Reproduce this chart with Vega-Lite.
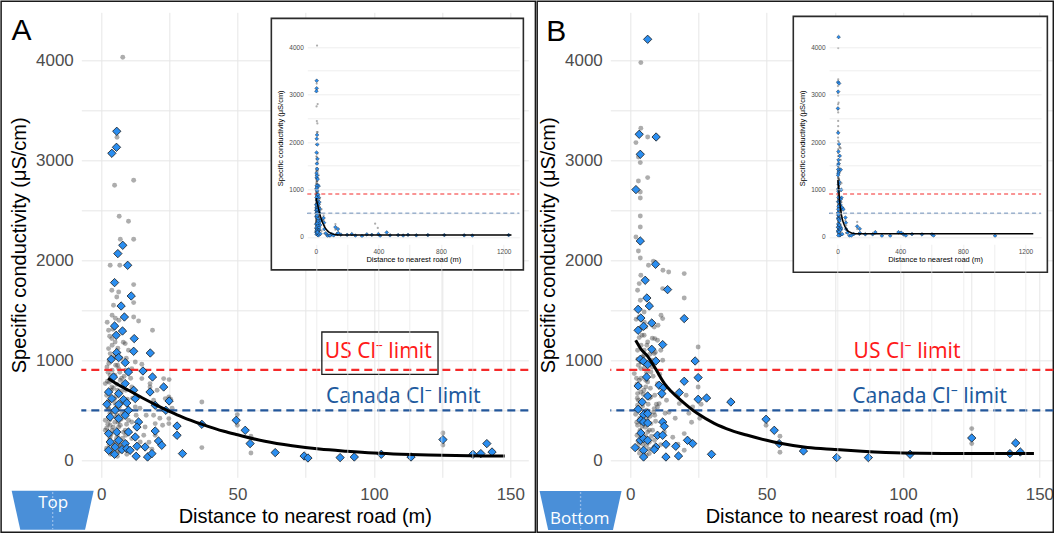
{
"$schema": "https://vega.github.io/schema/vega-lite/v6.json",
"padding": {"left": 0.3, "top": 0.3, "right": 0, "bottom": 0},
"background": "white",
"spacing": 0,
"config": {
 "view": {"stroke": null},
 "axis": {"grid": true, "domain": false, "ticks": false, "gridColor": "#e6e6e6", "gridWidth": 1, "labelFont": "Liberation Sans", "labelFontSize": 17, "labelColor": "#4d4d4d", "titleFont": "Liberation Sans", "titleFontSize": 20, "titleFontWeight": "normal", "titleColor": "#000000", "labelOverlap": false}
},
"datasets": {
 "one": [{"k": 1}],
 "Ab": [{"d":5.7,"sc":3290},{"d":5.6,"sc":3130},{"d":3.9,"sc":3070},{"d":7.9,"sc":2150},{"d":6.1,"sc":2067},{"d":9.7,"sc":1950},{"d":4.9,"sc":1777},{"d":11.0,"sc":1643},{"d":7.3,"sc":1543},{"d":8.5,"sc":1433},{"d":4.9,"sc":1343},{"d":5.5,"sc":1250},{"d":7.8,"sc":1293},{"d":12.1,"sc":1217},{"d":11.9,"sc":1090},{"d":18.0,"sc":1073},{"d":5.7,"sc":1077},{"d":3.7,"sc":1010},{"d":6.4,"sc":1027},{"d":8.8,"sc":977},{"d":10.0,"sc":883},{"d":15.3,"sc":893},{"d":18.8,"sc":833},{"d":4.5,"sc":833},{"d":8.8,"sc":767},{"d":22.9,"sc":733},{"d":11.9,"sc":700},{"d":17.9,"sc":683},{"d":2.7,"sc":683},{"d":6.4,"sc":667},{"d":3.9,"sc":617},{"d":8.2,"sc":607},{"d":12.5,"sc":617},{"d":24.9,"sc":593},{"d":2.1,"sc":560},{"d":6.4,"sc":560},{"d":9.4,"sc":573},{"d":19.8,"sc":550},{"d":5.1,"sc":500},{"d":10.0,"sc":500},{"d":23.7,"sc":500},{"d":3.3,"sc":433},{"d":6.4,"sc":417},{"d":8.8,"sc":450},{"d":13.7,"sc":383},{"d":36.9,"sc":360},{"d":49.5,"sc":400},{"d":52.8,"sc":300},{"d":27.8,"sc":343},{"d":27.8,"sc":250},{"d":19.8,"sc":293},{"d":13.1,"sc":333},{"d":2.7,"sc":267},{"d":5.7,"sc":283},{"d":10.0,"sc":283},{"d":12.5,"sc":233},{"d":3.3,"sc":183},{"d":6.4,"sc":200},{"d":8.8,"sc":167},{"d":21.0,"sc":193},{"d":22.2,"sc":150},{"d":16.1,"sc":133},{"d":13.1,"sc":140},{"d":2.7,"sc":100},{"d":5.1,"sc":133},{"d":7.6,"sc":107},{"d":9.4,"sc":117},{"d":4.9,"sc":60},{"d":12.8,"sc":40},{"d":17.0,"sc":33},{"d":18.6,"sc":67},{"d":29.8,"sc":67},{"d":54.6,"sc":167},{"d":10.6,"sc":100},{"d":63.8,"sc":77},{"d":74.4,"sc":43},{"d":75.8,"sc":23},{"d":87.6,"sc":27},{"d":92.8,"sc":33},{"d":102.7,"sc":60},{"d":113.6,"sc":33},{"d":125.3,"sc":207},{"d":136.3,"sc":60},{"d":139.2,"sc":67},{"d":141.4,"sc":167},{"d":143.3,"sc":83}],
 "Ag": [{"d":7.9,"sc":4030},{"d":5.8,"sc":3230},{"d":4.9,"sc":2750},{"d":11.9,"sc":2800},{"d":6.6,"sc":2440},{"d":10.0,"sc":2390},{"d":7.0,"sc":2210},{"d":11.9,"sc":2210},{"d":3.3,"sc":1950},{"d":6.8,"sc":1950},{"d":11.9,"sc":1757},{"d":3.9,"sc":1700},{"d":6.4,"sc":1683},{"d":5.7,"sc":1633},{"d":4.5,"sc":1550},{"d":11.9,"sc":1577},{"d":11.9,"sc":1433},{"d":13.7,"sc":1393},{"d":18.8,"sc":1300},{"d":2.7,"sc":1300},{"d":3.9,"sc":1217},{"d":5.1,"sc":1183},{"d":8.8,"sc":1167},{"d":2.7,"sc":1117},{"d":3.3,"sc":1067},{"d":12.5,"sc":983},{"d":14.9,"sc":960},{"d":2.1,"sc":933},{"d":6.4,"sc":917},{"d":11.2,"sc":917},{"d":3.3,"sc":850},{"d":7.0,"sc":800},{"d":14.9,"sc":817},{"d":22.9,"sc":817},{"d":24.9,"sc":807},{"d":1.5,"sc":767},{"d":17.9,"sc":767},{"d":17.9,"sc":733},{"d":11.2,"sc":733},{"d":3.9,"sc":733},{"d":24.8,"sc":633},{"d":23.5,"sc":617},{"d":36.9,"sc":583},{"d":19.2,"sc":600},{"d":5.1,"sc":567},{"d":12.5,"sc":533},{"d":2.7,"sc":517},{"d":7.6,"sc":467},{"d":19.2,"sc":450},{"d":24.8,"sc":417},{"d":49.9,"sc":457},{"d":1.5,"sc":400},{"d":11.2,"sc":383},{"d":19.8,"sc":367},{"d":24.8,"sc":367},{"d":3.3,"sc":350},{"d":6.4,"sc":333},{"d":16.1,"sc":333},{"d":1.5,"sc":300},{"d":8.8,"sc":300},{"d":19.8,"sc":250},{"d":11.2,"sc":217},{"d":3.3,"sc":233},{"d":6.4,"sc":150},{"d":14.3,"sc":183},{"d":49.9,"sc":350},{"d":54.9,"sc":240},{"d":54.9,"sc":73},{"d":36.9,"sc":127},{"d":3.9,"sc":67},{"d":9.4,"sc":60},{"d":18.6,"sc":110},{"d":4,"sc":1150},{"d":5,"sc":1050},{"d":3,"sc":1000},{"d":6,"sc":950},{"d":4,"sc":900},{"d":2.5,"sc":880},{"d":5,"sc":850},{"d":7.5,"sc":820},{"d":3,"sc":780},{"d":4.5,"sc":720},{"d":6,"sc":700},{"d":2,"sc":650},{"d":3.5,"sc":600},{"d":5.5,"sc":640},{"d":7,"sc":560},{"d":2.5,"sc":520},{"d":4,"sc":480},{"d":6,"sc":450},{"d":3,"sc":400},{"d":5,"sc":380},{"d":7,"sc":350},{"d":2,"sc":320},{"d":4,"sc":300},{"d":6,"sc":260},{"d":3,"sc":200},{"d":5,"sc":180},{"d":7,"sc":150},{"d":2,"sc":120},{"d":4,"sc":100},{"d":6,"sc":80},{"d":8,"sc":600},{"d":9,"sc":700},{"d":9,"sc":900},{"d":10,"sc":1100},{"d":8,"sc":1300},{"d":6.5,"sc":1400},{"d":4,"sc":1450},{"d":5.5,"sc":1250},{"d":10,"sc":400},{"d":9,"sc":250},{"d":125.3,"sc":273},{"d":125.3,"sc":153},{"d":2.2,"sc":1380},{"d":3.1,"sc":1240},{"d":4.3,"sc":1310},{"d":5.2,"sc":1420},{"d":6.1,"sc":1120},{"d":7.2,"sc":1020},{"d":8.1,"sc":1180},{"d":9.2,"sc":1020},{"d":2.8,"sc":970},{"d":4.1,"sc":1020},{"d":5.3,"sc":950},{"d":6.8,"sc":880},{"d":8.4,"sc":840},{"d":2.3,"sc":790},{"d":3.6,"sc":700},{"d":5.7,"sc":760},{"d":7.4,"sc":690},{"d":9.6,"sc":610},{"d":2.6,"sc":590},{"d":4.8,"sc":610},{"d":6.6,"sc":530},{"d":8.6,"sc":470},{"d":3.2,"sc":470},{"d":5.4,"sc":430},{"d":7.3,"sc":410},{"d":9.3,"sc":360},{"d":2.4,"sc":360},{"d":4.4,"sc":330},{"d":6.2,"sc":380},{"d":8.2,"sc":280},{"d":3.6,"sc":260},{"d":5.6,"sc":220},{"d":7.8,"sc":220},{"d":2.9,"sc":160},{"d":4.7,"sc":140},{"d":6.9,"sc":90},{"d":8.9,"sc":180},{"d":3.4,"sc":60},{"d":5.9,"sc":40},{"d":10.8,"sc":820},{"d":11.5,"sc":620},{"d":12.8,"sc":450},{"d":13.3,"sc":640},{"d":14.2,"sc":520},{"d":16.5,"sc":450},{"d":15.6,"sc":250},{"d":17.5,"sc":180},{"d":21.5,"sc":420},{"d":20.5,"sc":700},{"d":22.5,"sc":350},{"d":26,"sc":520},{"d":25.5,"sc":610}],
 "Bb": [{"d":6.4,"sc":4210},{"d":3.3,"sc":3260},{"d":9.5,"sc":3233},{"d":3.7,"sc":3060},{"d":2.1,"sc":2707},{"d":3.7,"sc":2193},{"d":9.3,"sc":1960},{"d":5.5,"sc":1800},{"d":13.7,"sc":1707},{"d":6.1,"sc":1623},{"d":7.0,"sc":1543},{"d":2.9,"sc":1510},{"d":19.8,"sc":1417},{"d":3.9,"sc":1423},{"d":7.9,"sc":1373},{"d":4.9,"sc":1340},{"d":2.9,"sc":1300},{"d":11.9,"sc":1157},{"d":7.9,"sc":1110},{"d":3.7,"sc":1010},{"d":4.9,"sc":990},{"d":9.4,"sc":993},{"d":23.8,"sc":993},{"d":6.4,"sc":957},{"d":24.9,"sc":827},{"d":6.0,"sc":833},{"d":19.8,"sc":790},{"d":2.9,"sc":743},{"d":10.6,"sc":750},{"d":12.2,"sc":727},{"d":18.0,"sc":677},{"d":11.6,"sc":667},{"d":24.9,"sc":610},{"d":28.0,"sc":623},{"d":36.9,"sc":583},{"d":6.4,"sc":643},{"d":4.4,"sc":583},{"d":2.9,"sc":510},{"d":4.9,"sc":457},{"d":6.4,"sc":467},{"d":3.9,"sc":400},{"d":4.9,"sc":383},{"d":11.9,"sc":383},{"d":6.4,"sc":373},{"d":12.5,"sc":340},{"d":49.8,"sc":410},{"d":52.8,"sc":300},{"d":54.6,"sc":167},{"d":3.9,"sc":273},{"d":3.7,"sc":200},{"d":4.9,"sc":217},{"d":6.4,"sc":200},{"d":10.0,"sc":250},{"d":11.9,"sc":250},{"d":21.0,"sc":200},{"d":22.9,"sc":167},{"d":13.1,"sc":160},{"d":9.4,"sc":133},{"d":1.8,"sc":127},{"d":16.7,"sc":140},{"d":4.9,"sc":100},{"d":8.8,"sc":107},{"d":17.7,"sc":43},{"d":13.1,"sc":33},{"d":4.9,"sc":33},{"d":29.8,"sc":60},{"d":63.5,"sc":93},{"d":75.7,"sc":27},{"d":87.3,"sc":27},{"d":102.6,"sc":60},{"d":125.2,"sc":223},{"d":139.2,"sc":67},{"d":141.3,"sc":173},{"d":143,"sc":83}],
 "Bg": [{"d":3.9,"sc":3977},{"d":3.9,"sc":3320},{"d":6.4,"sc":3233},{"d":2.1,"sc":3177},{"d":3.0,"sc":3033},{"d":3.7,"sc":2977},{"d":6.4,"sc":2827},{"d":3.0,"sc":2793},{"d":3.7,"sc":2683},{"d":3.7,"sc":2623},{"d":3.7,"sc":2443},{"d":3.7,"sc":2333},{"d":2.1,"sc":2233},{"d":3.0,"sc":2093},{"d":3.7,"sc":2023},{"d":6.7,"sc":1950},{"d":8.5,"sc":1990},{"d":14.1,"sc":1883},{"d":19.8,"sc":1867},{"d":3.9,"sc":1850},{"d":3.3,"sc":1767},{"d":2.7,"sc":1700},{"d":11.9,"sc":1717},{"d":19.8,"sc":1623},{"d":3.7,"sc":1600},{"d":5.1,"sc":1483},{"d":11.9,"sc":1417},{"d":3.3,"sc":1433},{"d":5.1,"sc":1250},{"d":3.3,"sc":1227},{"d":9.0,"sc":1217},{"d":6.4,"sc":1183},{"d":24.9,"sc":1133},{"d":5.1,"sc":1100},{"d":8.8,"sc":1067},{"d":2.7,"sc":1100},{"d":11.9,"sc":1000},{"d":3.9,"sc":917},{"d":7.6,"sc":883},{"d":3.3,"sc":800},{"d":10.0,"sc":767},{"d":24.9,"sc":733},{"d":2.7,"sc":667},{"d":7.6,"sc":633},{"d":18.0,"sc":567},{"d":10.6,"sc":567},{"d":2.7,"sc":550},{"d":8.8,"sc":517},{"d":4.5,"sc":433},{"d":49.8,"sc":350},{"d":7.6,"sc":367},{"d":2.7,"sc":350},{"d":12.5,"sc":283},{"d":19.8,"sc":267},{"d":54.9,"sc":240},{"d":6.4,"sc":283},{"d":3.3,"sc":167},{"d":11.2,"sc":157},{"d":19.8,"sc":100},{"d":54.9,"sc":80},{"d":7.0,"sc":67},{"d":10,"sc":533},{"d":5.7,"sc":733},{"d":3.9,"sc":683},{"d":6.4,"sc":783},{"d":4.5,"sc":1033},{"d":8.1,"sc":933},{"d":1.5,"sc":867},{"d":11.2,"sc":1100},{"d":8.8,"sc":1333},{"d":5.7,"sc":1333},{"d":4,"sc":1150},{"d":5,"sc":1050},{"d":3,"sc":950},{"d":6,"sc":880},{"d":4,"sc":820},{"d":2.5,"sc":760},{"d":5,"sc":700},{"d":7,"sc":620},{"d":3,"sc":600},{"d":4.5,"sc":540},{"d":6,"sc":500},{"d":2,"sc":460},{"d":3.5,"sc":420},{"d":5.5,"sc":330},{"d":7,"sc":300},{"d":2.5,"sc":250},{"d":4,"sc":230},{"d":6,"sc":150},{"d":3,"sc":120},{"d":5,"sc":90},{"d":7,"sc":180},{"d":9,"sc":450},{"d":9,"sc":650},{"d":8,"sc":1000},{"d":10,"sc":1200},{"d":125.2,"sc":317},{"d":125.2,"sc":167},{"d":22.9,"sc":533},{"d":2.2,"sc":1410},{"d":3.1,"sc":1300},{"d":4.3,"sc":1250},{"d":5.2,"sc":1380},{"d":6.1,"sc":1150},{"d":7.2,"sc":1060},{"d":8.1,"sc":1220},{"d":9.2,"sc":1080},{"d":2.8,"sc":1010},{"d":4.1,"sc":980},{"d":5.3,"sc":920},{"d":6.8,"sc":960},{"d":8.4,"sc":840},{"d":2.3,"sc":820},{"d":3.6,"sc":740},{"d":5.7,"sc":800},{"d":7.4,"sc":720},{"d":9.6,"sc":560},{"d":2.6,"sc":620},{"d":4.8,"sc":660},{"d":6.6,"sc":560},{"d":8.6,"sc":480},{"d":3.2,"sc":500},{"d":5.4,"sc":470},{"d":7.3,"sc":440},{"d":9.3,"sc":390},{"d":2.4,"sc":380},{"d":4.4,"sc":340},{"d":6.2,"sc":410},{"d":8.2,"sc":300},{"d":3.6,"sc":300},{"d":5.6,"sc":240},{"d":7.8,"sc":240},{"d":2.9,"sc":190},{"d":4.7,"sc":160},{"d":6.9,"sc":110},{"d":8.9,"sc":200},{"d":3.4,"sc":70},{"d":5.9,"sc":50},{"d":10.8,"sc":860},{"d":11.5,"sc":640},{"d":12.8,"sc":470},{"d":13.3,"sc":600},{"d":14.2,"sc":480},{"d":16.5,"sc":420},{"d":15.6,"sc":230},{"d":17.5,"sc":160},{"d":21.5,"sc":470},{"d":20.5,"sc":650},{"d":22.5,"sc":380},{"d":26,"sc":560},{"d":25.5,"sc":420},{"d":12.0,"sc":1900},{"d":11.3,"sc":1450},{"d":10.2,"sc":1350}],
 "Afb": [{"d":160,"sc":50},{"d":200,"sc":45},{"d":230,"sc":60},{"d":253,"sc":30},{"d":295,"sc":20},{"d":326,"sc":55},{"d":358,"sc":45},{"d":400,"sc":60},{"d":411,"sc":25},{"d":453,"sc":95},{"d":474,"sc":35},{"d":526,"sc":40},{"d":558,"sc":30},{"d":589,"sc":45},{"d":642,"sc":35},{"d":716,"sc":40},{"d":821,"sc":40},{"d":948,"sc":35},{"d":1000,"sc":30},{"d":1232,"sc":40}],
 "Afg": [{"d":379,"sc":280},{"d":396,"sc":190}],
 "Bfb": [{"d":177,"sc":57},{"d":224,"sc":57},{"d":241,"sc":100},{"d":283,"sc":25},{"d":336,"sc":25},{"d":389,"sc":100},{"d":406,"sc":90},{"d":421,"sc":55},{"d":436,"sc":30},{"d":475,"sc":60},{"d":539,"sc":55},{"d":603,"sc":55},{"d":613,"sc":30},{"d":1006,"sc":25}],
 "Afit": [{"d":2.5,"sc":820},{"d":5,"sc":775},{"d":10,"sc":700},{"d":15,"sc":625},{"d":20,"sc":555},{"d":25,"sc":490},{"d":30,"sc":430},{"d":37,"sc":360},{"d":45,"sc":290},{"d":50,"sc":255},{"d":60,"sc":190},{"d":70,"sc":145},{"d":80,"sc":112},{"d":90,"sc":90},{"d":100,"sc":72},{"d":110,"sc":60},{"d":120,"sc":52},{"d":130,"sc":47},{"d":140,"sc":44},{"d":148,"sc":42},{"d":200,"sc":40},{"d":400,"sc":40},{"d":800,"sc":40},{"d":1250,"sc":40}],
 "Bfit": [{"d":2,"sc":1200},{"d":4,"sc":1110},{"d":6.4,"sc":1040},{"d":9.4,"sc":910},{"d":12.5,"sc":770},{"d":15,"sc":690},{"d":18.6,"sc":600},{"d":24.7,"sc":467},{"d":30.8,"sc":370},{"d":37,"sc":300},{"d":43,"sc":250},{"d":50,"sc":200},{"d":55,"sc":170},{"d":65,"sc":128},{"d":75,"sc":108},{"d":85,"sc":90},{"d":100,"sc":72},{"d":115,"sc":68},{"d":130,"sc":67},{"d":148,"sc":67},{"d":200,"sc":67},{"d":400,"sc":67},{"d":800,"sc":67},{"d":1250,"sc":67}]
},
"hconcat": [
 {
  "width": 447, "height": 465,
  "data": {"name": "one"},
  "resolve": {"scale": {"x": "independent", "y": "independent"}},
  "layer": [
   {"layer": [
    {"mark": {"type": "rect", "filled": false, "stroke": "#1a1a1a", "strokeWidth": 1.5},
     "encoding": {"x": {"datum": -36.7, "type": "quantitative"}, "x2": {"datum": 159.2}, "y": {"datum": 4590, "type": "quantitative"}, "y2": {"datum": -720}}},
    {"data": {"name": "Ag"}, "mark": {"type": "circle", "size": 24, "color": "#333333", "opacity": 0.4},
     "encoding": {
      "x": {"field": "d", "type": "quantitative", "scale": {"domain": [-7.3, 156.6], "nice": false, "zero": false},
            "axis": {"grid": true, "title": "Distance to nearest road (m)", "values": [0, 25, 50, 75, 100, 125, 150], "labelExpr": "datum.value % 50 === 0 ? datum.label : ''", "labelPadding": 9, "titlePadding": 4}},
      "y": {"field": "sc", "type": "quantitative", "scale": {"domain": [-170, 4480], "nice": false, "zero": false},
            "axis": {"grid": true, "title": "Specific conductivity (μS/cm)", "values": [0, 500, 1000, 1500, 2000, 2500, 3000, 3500, 4000], "format": "d", "labelExpr": "datum.value % 1000 === 0 ? datum.label : ''", "labelPadding": 8, "titlePadding": 6}}}},
    {"mark": {"type": "rule", "color": "#f42a2a", "strokeWidth": 2.2, "strokeDash": [8, 5]}, "encoding": {"y": {"datum": 905, "type": "quantitative"}}},
    {"mark": {"type": "rule", "color": "#23579b", "strokeWidth": 2.2, "strokeDash": [8, 5]}, "encoding": {"y": {"datum": 500, "type": "quantitative"}}},
    {"data": {"name": "Ab"}, "mark": {"type": "point", "shape": "diamond", "filled": true, "fill": "#2b8ef0", "stroke": "#1a1a1a", "strokeWidth": 0.8, "size": 70, "opacity": 1},
     "encoding": {"x": {"field": "d", "type": "quantitative"}, "y": {"field": "sc", "type": "quantitative"}}},
    {"data": {"name": "Afit"}, "transform": [{"filter": "datum.d <= 150"}], "mark": {"type": "line", "color": "#000000", "strokeWidth": 3, "interpolate": "monotone"},
     "encoding": {"x": {"field": "d", "type": "quantitative"}, "y": {"field": "sc", "type": "quantitative"}}},
    {"mark": {"type": "rect", "filled": false, "stroke": "#1a1a1a", "strokeWidth": 1.3},
     "encoding": {"x": {"datum": 80.9, "type": "quantitative"}, "x2": {"datum": 123.5}, "y": {"datum": 1283, "type": "quantitative"}, "y2": {"datum": 860}}},
    {"mark": {"type": "text", "text": "US Cl⁻ limit", "font": "Noto Sans", "fontSize": 21, "color": "#ff1a1a", "align": "center", "baseline": "middle"},
     "encoding": {"x": {"datum": 101.6, "type": "quantitative"}, "y": {"datum": 1080, "type": "quantitative"}}},
    {"mark": {"type": "text", "text": "Canada Cl⁻ limit", "font": "Noto Sans", "fontSize": 21, "color": "#1d5a9e", "align": "center", "baseline": "middle"},
     "encoding": {"x": {"datum": 110.8, "type": "quantitative"}, "y": {"datum": 630, "type": "quantitative"}}},
    {"mark": {"type": "text", "text": "A", "font": "Liberation Sans", "fontSize": 30, "color": "#000000", "align": "center", "baseline": "middle"},
     "encoding": {"x": {"datum": -29.2, "type": "quantitative"}, "y": {"datum": 4290, "type": "quantitative"}}},
    {"mark": {"type": "point", "shape": "M-1,-0.476L1,-0.476L0.79,0.476L-0.79,0.476Z", "size": 6724, "filled": true, "fill": "#4a8fd8", "opacity": 1, "strokeWidth": 0},
     "encoding": {"x": {"datum": -17.8, "type": "quantitative"}, "y": {"datum": -500, "type": "quantitative"}}},
    {"mark": {"type": "rule", "color": "#a9c9ef", "strokeWidth": 1.3, "strokeDash": [1.5, 2.5]},
     "encoding": {"x": {"datum": -17.8, "type": "quantitative"}, "y": {"datum": -320, "type": "quantitative"}, "y2": {"datum": -690}}},
    {"mark": {"type": "text", "text": "Top", "font": "Open Sans", "fontSize": 17, "color": "#ffffff", "align": "center", "baseline": "middle"},
     "encoding": {"x": {"datum": -17.6, "type": "quantitative"}, "y": {"datum": -430, "type": "quantitative"}}}
   ]},
   {"layer": [
    {"mark": {"type": "rect", "fill": "#ffffff", "stroke": "#2b2b2b", "strokeWidth": 1.6},
     "encoding": {
      "x": {"datum": -284, "type": "quantitative", "scale": {"domain": [-54.3, 1300], "range": [226, 438], "nice": false, "zero": false},
            "axis": {"grid": true, "gridWidth": 0.7, "orient": "bottom", "offset": -232, "zindex": 1, "title": "Distance to nearest road (m)", "values": [0, 200, 400, 600, 800, 1000, 1200], "format": "d", "labelExpr": "datum.value % 400 === 0 ? datum.label : ''", "labelFontSize": 6.5, "titleFontSize": 7.5, "labelPadding": 3, "titlePadding": 1}},
      "x2": {"datum": 1326},
      "y": {"datum": 4604, "type": "quantitative", "scale": {"domain": [-175, 4352], "range": [233, 18], "nice": false, "zero": false},
            "axis": {"grid": true, "gridWidth": 0.7, "orient": "left", "offset": -226, "zindex": 1, "title": "Specific conductivity (μS/cm)", "values": [0, 500, 1000, 1500, 2000, 2500, 3000, 3500, 4000], "format": "d", "labelExpr": "datum.value % 1000 === 0 ? datum.label : ''", "labelFontSize": 6.5, "titleFontSize": 7.5, "labelPadding": 4, "titlePadding": 4}},
      "y2": {"datum": -692}}},
    {"data": {"name": "Ag"}, "mark": {"type": "circle", "size": 5, "color": "#333333", "opacity": 0.4},
     "encoding": {"x": {"field": "d", "type": "quantitative"}, "y": {"field": "sc", "type": "quantitative"}}},
    {"data": {"name": "Afg"}, "mark": {"type": "circle", "size": 5, "color": "#333333", "opacity": 0.4},
     "encoding": {"x": {"field": "d", "type": "quantitative"}, "y": {"field": "sc", "type": "quantitative"}}},
    {"mark": {"type": "rule", "color": "#f42a2a", "strokeWidth": 1.1, "strokeDash": [4, 3]},
     "encoding": {"x": {"datum": -54.3, "type": "quantitative"}, "x2": {"datum": 1300}, "y": {"datum": 905, "type": "quantitative"}}},
    {"mark": {"type": "rule", "color": "#23579b", "strokeWidth": 1.1, "strokeDash": [4, 3]},
     "encoding": {"x": {"datum": -54.3, "type": "quantitative"}, "x2": {"datum": 1300}, "y": {"datum": 500, "type": "quantitative"}}},
    {"data": {"name": "Ab"}, "mark": {"type": "point", "shape": "diamond", "filled": true, "fill": "#2b8ef0", "stroke": "#1a1a1a", "strokeWidth": 0.4, "size": 14, "opacity": 1},
     "encoding": {"x": {"field": "d", "type": "quantitative"}, "y": {"field": "sc", "type": "quantitative"}}},
    {"data": {"name": "Afb"}, "mark": {"type": "point", "shape": "diamond", "filled": true, "fill": "#2b8ef0", "stroke": "#1a1a1a", "strokeWidth": 0.4, "size": 14, "opacity": 1},
     "encoding": {"x": {"field": "d", "type": "quantitative"}, "y": {"field": "sc", "type": "quantitative"}}},
    {"data": {"name": "Afit"}, "mark": {"type": "line", "color": "#000000", "strokeWidth": 1.5, "interpolate": "monotone"},
     "encoding": {"x": {"field": "d", "type": "quantitative"}, "y": {"field": "sc", "type": "quantitative"}}}
   ]}
  ]
 },
 {
  "width": 443, "height": 465,
  "data": {"name": "one"},
  "resolve": {"scale": {"x": "independent", "y": "independent"}},
  "layer": [
   {"layer": [
    {"mark": {"type": "rect", "filled": false, "stroke": "#1a1a1a", "strokeWidth": 1.5},
     "encoding": {"x": {"datum": -34.1, "type": "quantitative"}, "x2": {"datum": 155.1}, "y": {"datum": 4590, "type": "quantitative"}, "y2": {"datum": -720}}},
    {"data": {"name": "Bg"}, "mark": {"type": "circle", "size": 24, "color": "#333333", "opacity": 0.4},
     "encoding": {
      "x": {"field": "d", "type": "quantitative", "scale": {"domain": [-7.3, 155.1], "nice": false, "zero": false},
            "axis": {"grid": true, "title": "Distance to nearest road (m)", "values": [0, 25, 50, 75, 100, 125, 150], "labelExpr": "datum.value % 50 === 0 ? datum.label : ''", "labelPadding": 9, "titlePadding": 4}},
      "y": {"field": "sc", "type": "quantitative", "scale": {"domain": [-170, 4480], "nice": false, "zero": false},
            "axis": {"grid": true, "title": "Specific conductivity (μS/cm)", "values": [0, 500, 1000, 1500, 2000, 2500, 3000, 3500, 4000], "format": "d", "labelExpr": "datum.value % 1000 === 0 ? datum.label : ''", "labelPadding": 8, "titlePadding": 6}}}},
    {"mark": {"type": "rule", "color": "#f42a2a", "strokeWidth": 2.2, "strokeDash": [8, 5]}, "encoding": {"y": {"datum": 905, "type": "quantitative"}}},
    {"mark": {"type": "rule", "color": "#23579b", "strokeWidth": 2.2, "strokeDash": [8, 5]}, "encoding": {"y": {"datum": 500, "type": "quantitative"}}},
    {"data": {"name": "Bb"}, "mark": {"type": "point", "shape": "diamond", "filled": true, "fill": "#2b8ef0", "stroke": "#1a1a1a", "strokeWidth": 0.8, "size": 70, "opacity": 1},
     "encoding": {"x": {"field": "d", "type": "quantitative"}, "y": {"field": "sc", "type": "quantitative"}}},
    {"data": {"name": "Bfit"}, "transform": [{"filter": "datum.d <= 150"}], "mark": {"type": "line", "color": "#000000", "strokeWidth": 3, "interpolate": "monotone"},
     "encoding": {"x": {"field": "d", "type": "quantitative"}, "y": {"field": "sc", "type": "quantitative"}}},
    {"mark": {"type": "text", "text": "US Cl⁻ limit", "font": "Noto Sans", "fontSize": 21, "color": "#ff1a1a", "align": "center", "baseline": "middle"},
     "encoding": {"x": {"datum": 101.5, "type": "quantitative"}, "y": {"datum": 1083, "type": "quantitative"}}},
    {"mark": {"type": "text", "text": "Canada Cl⁻ limit", "font": "Noto Sans", "fontSize": 21, "color": "#1d5a9e", "align": "center", "baseline": "middle"},
     "encoding": {"x": {"datum": 109.7, "type": "quantitative"}, "y": {"datum": 633, "type": "quantitative"}}},
    {"mark": {"type": "text", "text": "B", "font": "Liberation Sans", "fontSize": 30, "color": "#000000", "align": "center", "baseline": "middle"},
     "encoding": {"x": {"datum": -27.1, "type": "quantitative"}, "y": {"datum": 4283, "type": "quantitative"}}},
    {"mark": {"type": "point", "shape": "M-1,-0.476L1,-0.476L0.79,0.476L-0.79,0.476Z", "size": 6724, "filled": true, "fill": "#4a8fd8", "opacity": 1, "strokeWidth": 0},
     "encoding": {"x": {"datum": -18.2, "type": "quantitative"}, "y": {"datum": -503, "type": "quantitative"}}},
    {"mark": {"type": "rule", "color": "#a9c9ef", "strokeWidth": 1.3, "strokeDash": [1.5, 2.5]},
     "encoding": {"x": {"datum": -18.2, "type": "quantitative"}, "y": {"datum": -320, "type": "quantitative"}, "y2": {"datum": -690}}},
    {"mark": {"type": "text", "text": "Bottom", "font": "Open Sans", "fontSize": 17, "color": "#ffffff", "align": "center", "baseline": "middle"},
     "encoding": {"x": {"datum": -18.5, "type": "quantitative"}, "y": {"datum": -590, "type": "quantitative"}}}
   ]},
   {"layer": [
    {"mark": {"type": "rect", "fill": "#ffffff", "stroke": "#2b2b2b", "strokeWidth": 1.6},
     "encoding": {
      "x": {"datum": -283, "type": "quantitative", "scale": {"domain": [-54.3, 1300], "range": [218.8, 430.8], "nice": false, "zero": false},
            "axis": {"grid": true, "gridWidth": 0.7, "orient": "bottom", "offset": -232, "zindex": 1, "title": "Distance to nearest road (m)", "values": [0, 200, 400, 600, 800, 1000, 1200], "format": "d", "labelExpr": "datum.value % 400 === 0 ? datum.label : ''", "labelFontSize": 6.5, "titleFontSize": 7.5, "labelPadding": 3, "titlePadding": 1}},
      "x2": {"datum": 1340},
      "y": {"datum": 4646, "type": "quantitative", "scale": {"domain": [-175, 4352], "range": [233, 18], "nice": false, "zero": false},
            "axis": {"grid": true, "gridWidth": 0.7, "orient": "left", "offset": -218.8, "zindex": 1, "title": "Specific conductivity (μS/cm)", "values": [0, 500, 1000, 1500, 2000, 2500, 3000, 3500, 4000], "format": "d", "labelExpr": "datum.value % 1000 === 0 ? datum.label : ''", "labelFontSize": 6.5, "titleFontSize": 7.5, "labelPadding": 4, "titlePadding": 4}},
      "y2": {"datum": -743}}},
    {"data": {"name": "Bg"}, "mark": {"type": "circle", "size": 5, "color": "#333333", "opacity": 0.4},
     "encoding": {"x": {"field": "d", "type": "quantitative"}, "y": {"field": "sc", "type": "quantitative"}}},
    {"mark": {"type": "rule", "color": "#f42a2a", "strokeWidth": 1.1, "strokeDash": [4, 3]},
     "encoding": {"x": {"datum": -54.3, "type": "quantitative"}, "x2": {"datum": 1300}, "y": {"datum": 905, "type": "quantitative"}}},
    {"mark": {"type": "rule", "color": "#23579b", "strokeWidth": 1.1, "strokeDash": [4, 3]},
     "encoding": {"x": {"datum": -54.3, "type": "quantitative"}, "x2": {"datum": 1300}, "y": {"datum": 500, "type": "quantitative"}}},
    {"data": {"name": "Bb"}, "mark": {"type": "point", "shape": "diamond", "filled": true, "fill": "#2b8ef0", "stroke": "#1a1a1a", "strokeWidth": 0.4, "size": 14, "opacity": 1},
     "encoding": {"x": {"field": "d", "type": "quantitative"}, "y": {"field": "sc", "type": "quantitative"}}},
    {"data": {"name": "Bfb"}, "mark": {"type": "point", "shape": "diamond", "filled": true, "fill": "#2b8ef0", "stroke": "#1a1a1a", "strokeWidth": 0.4, "size": 14, "opacity": 1},
     "encoding": {"x": {"field": "d", "type": "quantitative"}, "y": {"field": "sc", "type": "quantitative"}}},
    {"data": {"name": "Bfit"}, "mark": {"type": "line", "color": "#000000", "strokeWidth": 1.5, "interpolate": "monotone"},
     "encoding": {"x": {"field": "d", "type": "quantitative"}, "y": {"field": "sc", "type": "quantitative"}}}
   ]}
  ]
 }
]
}
